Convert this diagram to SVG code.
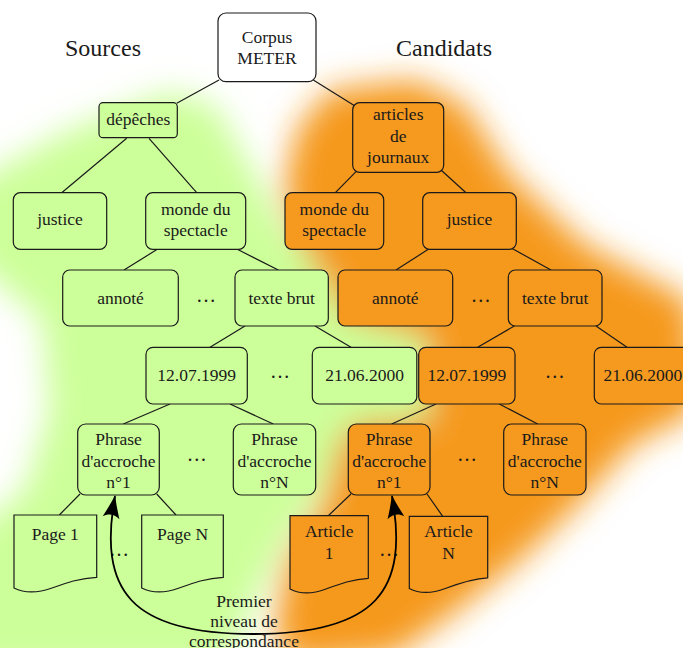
<svg xmlns="http://www.w3.org/2000/svg" width="683" height="648" viewBox="0 0 683 648">
<defs>
<style>
text{font-family:"Liberation Serif","Times New Roman",serif;font-size:17.5px;fill:#1a1a1a;text-anchor:middle}
.title{font-size:24px}
.dots{font-size:20px}
.box{stroke:#1a1a1a;stroke-width:1.2}
.g{fill:#ccff99}
.o{fill:#f5991f}
.w{fill:#ffffff}
.edge line{stroke:#1a1a1a;stroke-width:1.2}
.bend{fill:none;stroke:#000;stroke-width:1.8}
</style>
<filter id="blur" filterUnits="userSpaceOnUse" x="-150" y="-150" width="1000" height="1000">
<feGaussianBlur stdDeviation="16"/>
</filter>
<marker id="ah" markerUnits="userSpaceOnUse" viewBox="-24 -10 26 20" refX="0" refY="0" markerWidth="26" markerHeight="20" orient="auto-start-reverse" overflow="visible">
<path d="M1,0 C-6,-2 -14,-5 -22,-8.5 C-18,-3 -18,3 -22,8.5 C-14,5 -6,2 1,0 Z" fill="#000"/>
</marker>
</defs>
<rect width="683" height="648" fill="#fff"/>
<g id="backgrounds" filter="url(#blur)">
<path class="g" d="M170,92 L215,105 L255,175 L288,235 L335,268 L425,330 L430,418 L345,428 L322,490 L282,545 L255,600 L225,670 L-40,670 L-40,540 L25,490 L50,410 L42,320 L-40,250 L-40,190 L70,130 Z"/>
<path class="o" d="M330,90 L415,80 L465,105 L510,175 L585,245 L690,300 L700,410 L632,445 L578,505 L520,560 L455,612 L395,655 L290,665 L275,630 L285,565 L322,505 L340,440 L358,422 L428,420 L428,338 L348,318 L305,252 L283,190 L298,128 Z"/>
</g>
<g id="titles">
<text class="title" x="103" y="56">Sources</text>
<text class="title" x="444" y="56">Candidats</text>
</g>
<g id="ellipses">
<text class="dots" x="206" y="301.5">…</text>
<text class="dots" x="480.7" y="301.5">…</text>
<text class="dots" x="280" y="377.5">…</text>
<text class="dots" x="554.7" y="377.5">…</text>
<text class="dots" x="196.7" y="460.5">…</text>
<text class="dots" x="467" y="460.5">…</text>
<text class="dots" x="119" y="555.5">…</text>
<text class="dots" x="389" y="555.5">…</text>
</g>
<g id="connectors">
<g class="edge">
<line x1="219" y1="80" x2="176.7" y2="103.3"/>
<line x1="313.3" y1="80" x2="355" y2="106"/>
<line x1="126.7" y1="138.3" x2="61.7" y2="192.7"/>
<line x1="149" y1="138.3" x2="196.7" y2="192.7"/>
<line x1="356" y1="171.7" x2="335.4" y2="192.7"/>
<line x1="441" y1="170" x2="466" y2="192.7"/>
<line x1="157.3" y1="249.3" x2="124" y2="270"/>
<line x1="237.3" y1="249.3" x2="278.3" y2="270"/>
<line x1="428.3" y1="249.3" x2="396" y2="270"/>
<line x1="511.7" y1="248.3" x2="551" y2="270"/>
<line x1="245" y1="326" x2="210" y2="347.3"/>
<line x1="315" y1="326" x2="351" y2="347.3"/>
<line x1="514.3" y1="326" x2="477.7" y2="347.3"/>
<line x1="596" y1="326" x2="627" y2="347.3"/>
<line x1="170" y1="404" x2="123.3" y2="424"/>
<line x1="230" y1="404" x2="273.3" y2="424"/>
<line x1="436" y1="404" x2="391.7" y2="424"/>
<line x1="499.3" y1="404" x2="537.7" y2="424"/>
<line x1="80" y1="494" x2="59.3" y2="515"/>
<line x1="156.7" y1="494" x2="176" y2="515"/>
<line x1="351" y1="494" x2="328.3" y2="515.7"/>
<line x1="427" y1="494" x2="442.7" y2="516.3"/>
</g>
<path id="correspondance" class="bend" d="M115,496 C98,590 130,634 253,634 C377,634 409,590 392,496" marker-start="url(#ah)" marker-end="url(#ah)"/>
</g>
<g id="n-corpus"><rect class="box w" x="218" y="13" width="98" height="68.7" rx="8"/><text x="267" y="43.3">Corpus</text><text x="267" y="64">METER</text></g>
<g id="n-depeches"><rect class="box g" x="99" y="102.7" width="78.3" height="35" rx="4"/><text x="138.2" y="125">dépêches</text></g>
<g id="n-articles"><rect class="box o" x="352.7" y="102.7" width="91" height="69.6" rx="7"/><text x="398.2" y="120">articles</text><text x="398.2" y="141.7">de</text><text x="398.2" y="163.3">journaux</text></g>
<g id="n-justice-s"><rect class="box g" x="13.3" y="192.7" width="93.4" height="56.6" rx="7"/><text x="60" y="225">justice</text></g>
<g id="n-monde-s"><rect class="box g" x="145.7" y="192.7" width="100" height="56.6" rx="7"/><text x="195.7" y="215">monde du</text><text x="195.7" y="236">spectacle</text></g>
<g id="n-monde-c"><rect class="box o" x="285" y="192.7" width="98.7" height="56.6" rx="7"/><text x="334.3" y="215">monde du</text><text x="334.3" y="236">spectacle</text></g>
<g id="n-justice-c"><rect class="box o" x="422.7" y="192.7" width="93.6" height="56.6" rx="7"/><text x="469.5" y="225">justice</text></g>
<g id="n-annote-s"><rect class="box g" x="62.7" y="270" width="115.6" height="56" rx="7"/><text x="120.5" y="304">annoté</text></g>
<g id="n-texte-s"><rect class="box g" x="235" y="270" width="93.3" height="56" rx="7"/><text x="281.7" y="304">texte brut</text></g>
<g id="n-annote-c"><rect class="box o" x="338" y="270" width="114.7" height="56" rx="7"/><text x="395.3" y="304">annoté</text></g>
<g id="n-texte-c"><rect class="box o" x="508.3" y="270" width="93.7" height="56" rx="7"/><text x="555.2" y="304">texte brut</text></g>
<g id="n-d1-s"><rect class="box g" x="146" y="347.3" width="101.3" height="56.7" rx="7"/><text x="196.7" y="381">12.07.1999</text></g>
<g id="n-d2-s"><rect class="box g" x="312.3" y="347.3" width="104.5" height="56.7" rx="7"/><text x="364.5" y="381">21.06.2000</text></g>
<g id="n-d1-c"><rect class="box o" x="418.7" y="347.3" width="96.3" height="56.7" rx="7"/><text x="466.8" y="381">12.07.1999</text></g>
<g id="n-d2-c"><rect class="box o" x="594.3" y="347.3" width="97" height="56.7" rx="7"/><text x="642.8" y="381">21.06.2000</text></g>
<g id="n-p1-s"><rect class="box g" x="77.7" y="424" width="81.6" height="71" rx="8"/><text x="118.5" y="444.7">Phrase</text><text x="118.5" y="466.7">d'accroche</text><text x="118.5" y="488">n°1</text></g>
<g id="n-pN-s"><rect class="box g" x="233.3" y="424" width="82.4" height="71" rx="8"/><text x="274.5" y="444.7">Phrase</text><text x="274.5" y="466.7">d'accroche</text><text x="274.5" y="488">n°N</text></g>
<g id="n-p1-c"><rect class="box o" x="348.3" y="424" width="81.7" height="71" rx="8"/><text x="389.2" y="444.7">Phrase</text><text x="389.2" y="466.7">d'accroche</text><text x="389.2" y="488">n°1</text></g>
<g id="n-pN-c"><rect class="box o" x="503.7" y="424" width="82.3" height="71" rx="8"/><text x="544.8" y="444.7">Phrase</text><text x="544.8" y="466.7">d'accroche</text><text x="544.8" y="488">n°N</text></g>
<g id="n-page1"><path class="box g" d="M14,515 H96.7 V577.3 C80,578 66,583 52,588 C38,593 26,594 14,588 Z"/><text x="55.3" y="540">Page 1</text></g>
<g id="n-pageN"><path class="box g" d="M141.7,515 H223.3 V577.3 C206.8,578 193,583 179.2,588 C165.5,593 153.7,594 141.7,588 Z"/><text x="182.5" y="540">Page N</text></g>
<g id="n-art1"><path class="box o" d="M290,515.7 H368.3 V578.3 C352.8,579 339.5,584 326,589 C312.7,594 301.4,595 290,589 Z"/><text x="329.2" y="537.3">Article</text><text x="329.2" y="559.3">1</text></g>
<g id="n-artN"><path class="box o" d="M409.3,516.3 H487.7 V577.8 C472.2,578.5 458.5,583.5 445.3,588.5 C432,593.5 420.7,594.5 409.3,588.5 Z"/><text x="448.5" y="537.3">Article</text><text x="448.5" y="559.3">N</text></g>
<g id="label"><text x="244" y="606.7">Premier</text><text x="244" y="626.7">niveau de</text><text x="244" y="646.7">correspondance</text></g>
</svg>
